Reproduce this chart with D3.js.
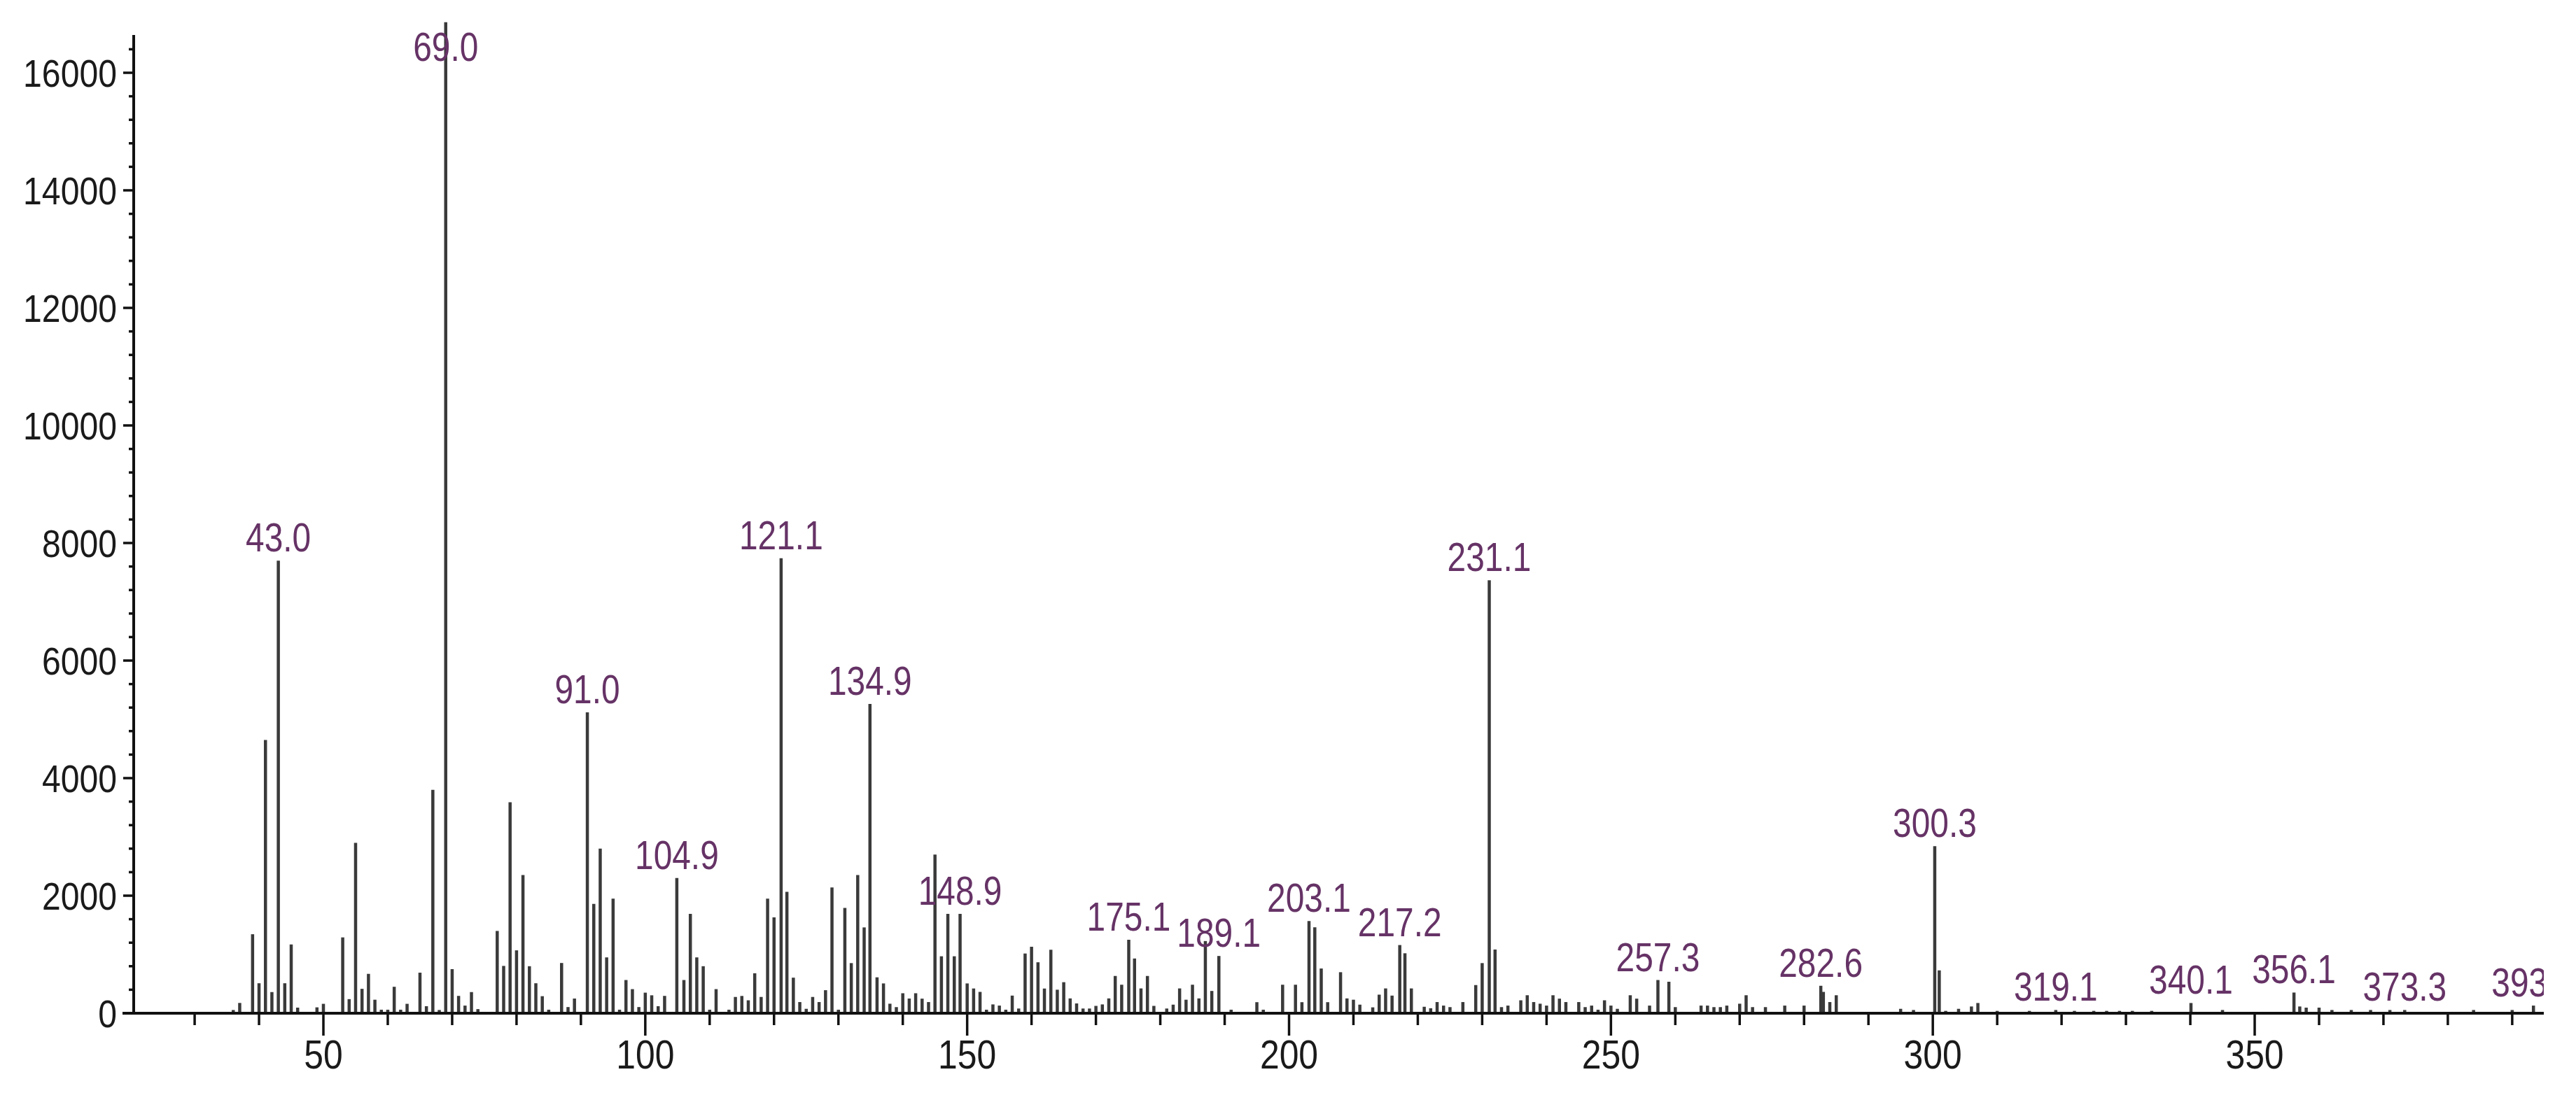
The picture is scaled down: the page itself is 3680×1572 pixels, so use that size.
<!DOCTYPE html>
<html>
<head>
<meta charset="utf-8">
<script src="https://cdn.jsdelivr.net/npm/d3@7"></script>
<style>
  body { margin: 0; background: #fff; }
  svg { display: block; }
</style>
</head>
<body>
<svg></svg>
<script>
// m/z of each peak
let mz = [36, 37, 39, 40, 41, 42, 43.0, 44, 45, 46, 49, 50, 53, 54, 55, 56, 57, 58, 59, 60,
    61, 62, 63, 65, 66, 67, 68, 69.0, 70, 71, 72, 73, 74, 77, 78, 79, 80, 81, 82, 83,
    84, 85, 87, 88, 89, 91.0, 92, 93, 94, 95, 96, 97, 98, 99, 100, 101, 102, 103, 104.9, 106,
    107, 108, 109, 110, 111, 113, 114, 115, 116, 117, 118, 119, 120, 121.1, 122, 123, 124, 125, 126, 127,
    128, 129, 130, 131, 132, 133, 134, 134.9, 136, 137, 138, 139, 140, 141, 142, 143, 144, 145, 146, 147,
    148, 148.9, 150, 151, 152, 153, 154, 155, 156, 157, 158, 159, 160, 161, 162, 163, 164, 165, 166, 167,
    168, 169, 170, 171, 172, 173, 174, 175.1, 176, 177, 178, 179, 181, 182, 183, 184, 185, 186, 187, 188,
    189.1, 191, 195, 196, 199, 201, 202, 203.1, 204, 205, 206, 208, 209, 210, 211, 213, 214, 215, 216, 217.2,
    218, 219, 221, 222, 223, 224, 225, 227, 229, 230, 231.1, 232, 233, 234, 236, 237, 238, 239, 240, 241,
    242, 243, 245, 246, 247, 248, 249, 250, 251, 253, 254, 256, 257.3, 259, 260, 264, 265, 266, 267, 268,
    270, 271, 272, 274, 277, 280, 282.6, 283, 284, 285, 295, 297, 300.3, 301, 302, 304, 306, 307, 310, 315,
    319.1, 322, 325, 327, 329, 331, 334, 340.1, 345, 356.1, 357, 358, 360, 362, 365, 368, 371, 373.3, 384, 390,
    393.3]

// abundance of each peak
let abundance = [55, 175, 1344, 510, 4650, 360, 7700, 510, 1170, 95, 100, 160, 1290, 240, 2900, 415, 670, 230, 60, 60,
    450, 60, 160, 690, 120, 3800, 55, 16860, 750, 295, 130, 360, 70, 1400, 805, 3590, 1070, 2350, 800, 510,
    290, 60, 855, 105, 250, 5120, 1860, 2800, 950, 1950, 60, 565, 410, 105, 350, 305, 120, 295, 2300, 565,
    1690, 950, 800, 60, 410, 60, 277, 294, 220, 680, 277, 1948, 1632, 7741, 2064, 605, 190, 75, 277, 190,
    392, 2139, 60, 1793, 853, 2352, 1460, 5263, 611, 507, 162, 104, 340, 250, 340, 248, 190, 2698, 969, 1689,
    969, 1689, 507, 421, 363, 60, 150, 130, 60, 300, 80, 1016, 1131, 867, 420, 1080, 400, 528, 252, 167,
    80, 80, 125, 150, 252, 634, 485, 1250, 931, 422, 634, 125, 80, 146, 422, 230, 485, 252, 1228, 379,
    974, 60, 188, 60, 485, 485, 188, 1568, 1462, 761, 188, 698, 252, 230, 146, 100, 316, 422, 300, 1160,
    1020, 422, 110, 85, 190, 130, 104, 190, 479, 853, 7367, 1084, 104, 130, 220, 306, 190, 162, 130, 306,
    248, 190, 190, 104, 130, 60, 220, 130, 75, 306, 248, 130, 565, 536, 104, 130, 130, 104, 104, 130,
    162, 306, 104, 104, 130, 130, 467, 363, 190, 306, 75, 55, 2842, 729, 40, 75, 115, 174, 40, 40,
    55, 40, 40, 40, 40, 40, 40, 174, 55, 352, 115, 95, 95, 55, 55, 55, 55, 55, 55, 55,
    130]

// annotated peaks
let labelled = [43.0, 69.0, 91.0, 104.9, 121.1, 134.9, 148.9, 175.1, 189.1, 203.1,
    217.2, 231.1, 257.3, 282.6, 300.3, 319.1, 340.1, 356.1, 373.3, 393.3]

let yTicks = [0, 2000, 4000, 6000, 8000, 10000, 12000, 14000, 16000]
let xTicks = [50, 100, 150, 200, 250, 300, 350]

let width = 3680,
    height = 1572

let peaks = mz.map((m, i) => ({ m: m, v: abundance[i] }))

let x = d3.scaleLinear()
    .domain([50, 350])
    .range([462, 3221])

let y = d3.scaleLinear()
    .domain([0, 16000])
    .range([1448, 104])

let xLeft = 191,
    xRight = 3634,
    yTop = 50

let svg = d3.select('svg')
    .attr('width', width)
    .attr('height', height)

svg.append('defs').append('clipPath')
    .attr('id', 'plot')
    .append('rect')
    .attr('x', 0)
    .attr('y', 0)
    .attr('width', xRight)
    .attr('height', height)

let g = svg.append('g')

// peaks
g.append('g')
    .selectAll('line')
    .data(peaks)
    .enter().append('line')
    .attr('x1', d => x(d.m))
    .attr('x2', d => x(d.m))
    .attr('y1', y(0))
    .attr('y2', d => y(d.v))
    .attr('stroke', '#3a3a3a')
    .attr('stroke-width', 4.5)

// x axis
let xMinor = d3.range(30, 395, 10)
let xAxis = g.append('g')

xAxis.append('line')
    .attr('x1', 175)
    .attr('x2', xRight)
    .attr('y1', y(0))
    .attr('y2', y(0))
    .attr('stroke', '#111')
    .attr('stroke-width', 4)

xAxis.selectAll('line.tick')
    .data(xMinor)
    .enter().append('line')
    .attr('class', 'tick')
    .attr('x1', d => x(d))
    .attr('x2', d => x(d))
    .attr('y1', y(0))
    .attr('y2', d => y(0) + (d % 50 === 0 ? 32 : 17))
    .attr('stroke', '#111')
    .attr('stroke-width', 3.5)

xAxis.selectAll('text')
    .data(xTicks)
    .enter().append('text')
    .attr('transform', d => `translate(${x(d)},1527) scale(0.86,1)`)
    .attr('text-anchor', 'middle')
    .attr('font-family', 'Liberation Sans, Arial, sans-serif')
    .attr('font-size', 58)
    .attr('fill', '#1a1a1a')
    .text(d => d)

// y axis
let yMinor = d3.range(0, 16401, 400)
let yAxis = g.append('g')

yAxis.append('line')
    .attr('x1', xLeft)
    .attr('x2', xLeft)
    .attr('y1', y(0))
    .attr('y2', yTop)
    .attr('stroke', '#111')
    .attr('stroke-width', 4)

yAxis.selectAll('line.tick')
    .data(yMinor)
    .enter().append('line')
    .attr('class', 'tick')
    .attr('x1', d => xLeft - (d % 2000 === 0 ? 15 : 7))
    .attr('x2', xLeft)
    .attr('y1', d => y(d))
    .attr('y2', d => y(d))
    .attr('stroke', '#111')
    .attr('stroke-width', 3.5)

yAxis.selectAll('text')
    .data(yTicks)
    .enter().append('text')
    .attr('transform', d => `translate(167,${y(d) + 20}) scale(0.86,1)`)
    .attr('text-anchor', 'end')
    .attr('font-family', 'Liberation Sans, Arial, sans-serif')
    .attr('font-size', 56)
    .attr('fill', '#1a1a1a')
    .text(d => d)

// peak labels
let labelData = labelled.map(m => peaks.find(p => p.m === m))

g.append('g')
    .attr('clip-path', 'url(#plot)')
    .selectAll('text')
    .data(labelData)
    .enter().append('text')
    .attr('transform', d => `translate(${x(d.m)},${Math.max(y(d.v) - 13, 87)}) scale(0.84,1)`)
    .attr('text-anchor', 'middle')
    .attr('font-family', 'Liberation Sans, Arial, sans-serif')
    .attr('font-size', 57)
    .attr('fill', '#663366')
    .text(d => d.m.toFixed(1))
</script>
</body>
</html>
